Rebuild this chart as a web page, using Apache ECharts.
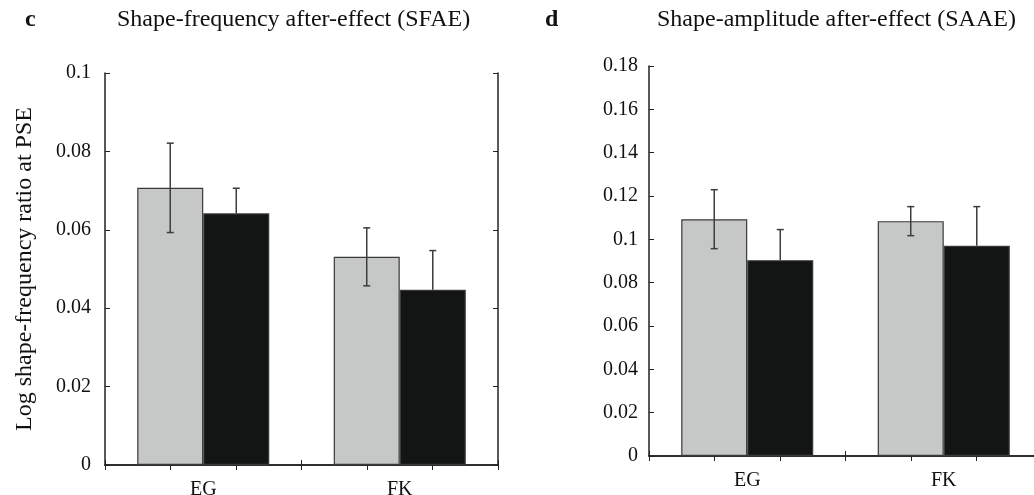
<!DOCTYPE html>
<html>
<head>
<meta charset="utf-8">
<script src="https://cdn.jsdelivr.net/npm/echarts@6/dist/echarts.min.js"></script>
<style>
html,body{margin:0;padding:0;background:#fff;}
#chart{width:1034px;height:495px;}
</style>
</head>
<body>
<div id="chart"></div>
<script>
// groups on the x axis
var groups = ['EG', 'FK'];

// c: shape-frequency after-effect
var sfaeGrey = [0.0707, 0.0531];
var sfaeGreyErr = [0.0114, 0.0074];
var sfaeBlack = [0.0642, 0.0447];
var sfaeBlackErr = [0.0064, 0.0100];

// d: shape-amplitude after-effect
var saaeGrey = [0.1093, 0.1084];
var saaeGreyErr = [0.0136, 0.0067];
var saaeBlack = [0.0904, 0.0970];
var saaeBlackErr = [0.0141, 0.0181];

var FONT = 'Liberation Serif';
var GREY = '#c6c8c7';
var BLACK = '#131514';
var LINE = '#222';

var chart = echarts.init(document.getElementById('chart'));

function errData(vals, errs){
	var out = [];
	for (var i = 0; i < vals.length; i++) {
		out.push([i, vals[i], errs[i]]);
	}
	return out;
}

// draws an error bar over one of the two bars in a group
function errSeries(name, grid, vals, errs, side, showLower){
	return {
		name: name,
		type: 'custom',
		xAxisIndex: grid * 2,
		yAxisIndex: grid * 2,
		z: 10,
		data: errData(vals, errs),
		encode: {x: 0, y: 1},
		renderItem: function(params, api){
			var idx = api.value(0);
			var v = api.value(1);
			var e = api.value(2);
			var band = api.size([1, 0])[0];
			var c = api.coord([idx, v]);
			var x = c[0] + side * band * 0.168;
			var hi = api.coord([idx, v + e])[1];
			var lo = showLower ? api.coord([idx, v - e])[1] : c[1];
			var style = {stroke: '#3c3c3c', lineWidth: 1.5};
			var kids = [
				{type: 'line', shape: {x1: x, y1: hi, x2: x, y2: lo}, style: style},
				{type: 'line', shape: {x1: x - 3.5, y1: hi, x2: x + 3.5, y2: hi}, style: style}
			];
			if (showLower) {
				kids.push({type: 'line', shape: {x1: x - 3.5, y1: lo, x2: x + 3.5, y2: lo}, style: style});
			}
			return {type: 'group', children: kids};
		}
	};
}

function barSeries(name, grid, vals, color){
	return {
		name: name,
		type: 'bar',
		xAxisIndex: grid * 2,
		yAxisIndex: grid * 2,
		data: vals,
		barWidth: '33.6%',
		barGap: '0%',
		itemStyle: {color: color, borderColor: '#3a3a3a', borderWidth: 1.2},
		silent: true
	};
}

var axisLine = {show: true, lineStyle: {color: LINE, width: 1.5}};
var tick = {show: true, inside: true, length: 5, lineStyle: {color: LINE, width: 1}};

function xAxes(grid){
	return [
		{
			type: 'category', gridIndex: grid, data: groups, position: 'bottom',
			axisLine: axisLine, axisTick: tick,
			axisLabel: {color: '#111', fontFamily: FONT, fontSize: 20, margin: 15}
		},
		{
			type: 'value', gridIndex: grid, position: 'top', min: 0, max: 6, interval: 1,
			axisLine: axisLine, axisTick: tick, axisLabel: {show: false}, splitLine: {show: false}
		}
	];
}

function yAxes(grid, max, margin, name){
	return [
		{
			type: 'value', gridIndex: grid, min: 0, max: max, interval: 0.02,
			axisLine: axisLine, axisTick: tick, splitLine: {show: false},
			axisLabel: {color: '#111', fontFamily: FONT, fontSize: 20, margin: margin},
			name: name, nameLocation: 'middle', nameGap: 68,
			nameTextStyle: {color: '#111', fontFamily: FONT, fontSize: 24}
		},
		{
			type: 'value', gridIndex: grid, position: 'right', min: 0, max: max, interval: 0.02,
			axisLine: axisLine, axisTick: tick, axisLabel: {show: false}, splitLine: {show: false}
		}
	];
}

var option = {
	backgroundColor: '#fff',
	animation: false,
	title: [
		{text: 'c', left: 20, top: 3, textStyle: {fontFamily: FONT, fontSize: 24, fontWeight: 'bold', color: '#111'}},
		{text: 'Shape-frequency after-effect (SFAE)', left: 112, top: 3, textStyle: {fontFamily: FONT, fontSize: 24, fontWeight: 'normal', color: '#111'}},
		{text: 'd', left: 540, top: 3, textStyle: {fontFamily: FONT, fontSize: 24, fontWeight: 'bold', color: '#111'}},
		{text: 'Shape-amplitude after-effect (SAAE)', left: 652, top: 3, textStyle: {fontFamily: FONT, fontSize: 24, fontWeight: 'normal', color: '#111'}}
	],
	grid: [
		{left: 105, top: 73, width: 393, height: 392, outerBoundsMode: 'none'},
		{left: 649, top: 66, width: 393, height: 390, outerBoundsMode: 'none'}
	],
	xAxis: xAxes(0).concat(xAxes(1)),
	yAxis: yAxes(0, 0.1, 14, 'Log shape-frequency ratio at PSE').concat(yAxes(1, 0.18, 11, '')),
	series: [
		barSeries('SFAE grey', 0, sfaeGrey, GREY),
		barSeries('SFAE black', 0, sfaeBlack, BLACK),
		errSeries('SFAE grey err', 0, sfaeGrey, sfaeGreyErr, -1, true),
		errSeries('SFAE black err', 0, sfaeBlack, sfaeBlackErr, 1, false),
		barSeries('SAAE grey', 1, saaeGrey, GREY),
		barSeries('SAAE black', 1, saaeBlack, BLACK),
		errSeries('SAAE grey err', 1, saaeGrey, saaeGreyErr, -1, true),
		errSeries('SAAE black err', 1, saaeBlack, saaeBlackErr, 1, false)
	]
};
chart.setOption(option);
</script>
</body>
</html>
